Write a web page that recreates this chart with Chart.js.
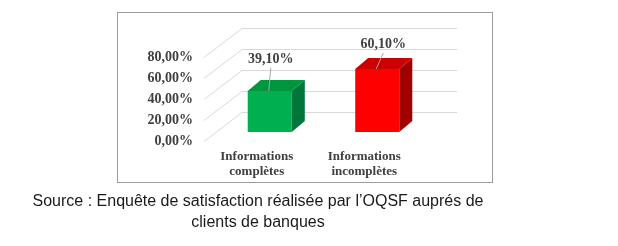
<!DOCTYPE html>
<html>
<head>
<meta charset="utf-8">
<script src="https://cdn.jsdelivr.net/npm/chart.js@4.4.0/dist/chart.umd.min.js"></script>
<style>
  html, body { margin: 0; padding: 0; background: #fff; }
  #wrap { position: relative; width: 618px; height: 246px; overflow: hidden; }
  #frame { position: absolute; left: 117px; top: 12px; width: 374px; height: 169px; border: 1px solid #9c9c9c; }
  #c { position: absolute; left: 0; top: 0; }
  #caption { position: absolute; left: 0; top: 190px; width: 516px; text-align: center;
    font-family: "Liberation Sans", Arial, sans-serif; font-size: 16px; line-height: 21px; color: #1a1a1a; }
</style>
</head>
<body>
<div id="wrap">
  <div id="frame"></div>
  <canvas id="c" width="618" height="246"></canvas>
  <div id="caption">Source : Enquête de satisfaction réalisée par l’OQSF auprés de<br>clients de banques</div>
</div>
<script>
/* data */
var categories = [["Informations", "complètes"], ["Informations", "incomplètes"]];
var values = [39.1, 60.1];
var yTicks = [0, 20, 40, 60, 80];

/* colours: front / top / side */
var frontColors = ["#00b050", "#ff0000"];
var topColors = ["#00963f", "#cc0000"];
var sideColors = ["#00763a", "#a00000"];

var DX = 13, DY = 11;           /* 3d depth of the bars */
var labelShift = [{ dx: 1, dy: -32 }, { dx: 6, dy: -25 }];

function pct(v) { return v.toFixed(2).replace(".", ",") + "%"; }

var serif = '"Liberation Serif", "Times New Roman", serif';

/* floor / back wall gridlines in fake perspective */
var grid3d = {
  id: "grid3d",
  beforeDatasetsDraw: function (chart) {
    var y = chart.scales.y, a = chart.chartArea, ctx = chart.ctx;
    ctx.save();
    ctx.strokeStyle = "#d9d9d9";
    ctx.lineWidth = 1;
    y.ticks.forEach(function (t) {
      var py = Math.round(y.getPixelForValue(t.value)) + 0.5;
      ctx.beginPath();
      ctx.moveTo(a.left - 12, py + 9);
      ctx.lineTo(a.left + 26, py - 20);
      ctx.lineTo(a.right + 26, py - 20);
      ctx.stroke();
    });
    ctx.restore();
  }
};

/* top and side faces + value labels */
var bars3d = {
  id: "bars3d",
  afterDatasetsDraw: function (chart) {
    var ctx = chart.ctx;
    var meta = chart.getDatasetMeta(0);
    ctx.save();
    meta.data.forEach(function (bar, i) {
      var p = bar.getProps(["x", "y", "base", "width"], true);
      var x0 = p.x - p.width / 2, x1 = p.x + p.width / 2;
      ctx.fillStyle = topColors[i];
      ctx.beginPath();
      ctx.moveTo(x0, p.y);
      ctx.lineTo(x1, p.y);
      ctx.lineTo(x1 + DX, p.y - DY);
      ctx.lineTo(x0 + DX, p.y - DY);
      ctx.closePath();
      ctx.fill();
      ctx.fillStyle = sideColors[i];
      ctx.beginPath();
      ctx.moveTo(x1, p.y);
      ctx.lineTo(x1 + DX, p.y - DY);
      ctx.lineTo(x1 + DX, p.base - DY);
      ctx.lineTo(x1, p.base);
      ctx.closePath();
      ctx.fill();

      var lx = p.x + labelShift[i].dx, ly = p.y + labelShift[i].dy;
      ctx.strokeStyle = "#a6a6a6";
      ctx.lineWidth = 1;
      ctx.beginPath();
      ctx.moveTo(lx, ly + 9);
      ctx.lineTo(p.x - 1, p.y);
      ctx.stroke();

      ctx.fillStyle = "#404040";
      ctx.font = "bold 14px " + serif;
      ctx.textAlign = "center";
      ctx.textBaseline = "middle";
      ctx.fillText(pct(values[i]), lx, ly);
    });
    ctx.restore();
  }
};

new Chart(document.getElementById("c"), {
  type: "bar",
  data: {
    labels: categories,
    datasets: [{
      data: values,
      backgroundColor: frontColors,
      borderWidth: 0,
      categoryPercentage: 1,
      barPercentage: 0.41
    }]
  },
  options: {
    responsive: false,
    animation: false,
    devicePixelRatio: 1,
    layout: { padding: { left: 116, top: 48, right: 187, bottom: 54 } },
    plugins: { legend: { display: false }, tooltip: { enabled: false } },
    scales: {
      x: {
        grid: { display: false, drawTicks: false },
        border: { display: false },
        afterFit: function (s) { s.height = 60; },
        ticks: {
          color: "#404040",
          font: { family: serif, size: 13, weight: "bold", lineHeight: 1.15 },
          padding: 17,
          labelOffset: -13,
          maxRotation: 0
        }
      },
      y: {
        min: 0,
        max: 80,
        grid: { display: false, drawTicks: false },
        border: { display: false },
        afterFit: function (s) { s.width = 100; },
        afterBuildTicks: function (s) { s.ticks = yTicks.map(function (v) { return { value: v }; }); },
        ticks: {
          color: "#404040",
          font: { family: serif, size: 14, weight: "bold" },
          padding: 23,
          labelOffset: 9,
          callback: function (v) { return pct(v); }
        }
      }
    }
  },
  plugins: [grid3d, bars3d]
});
</script>
</body>
</html>
